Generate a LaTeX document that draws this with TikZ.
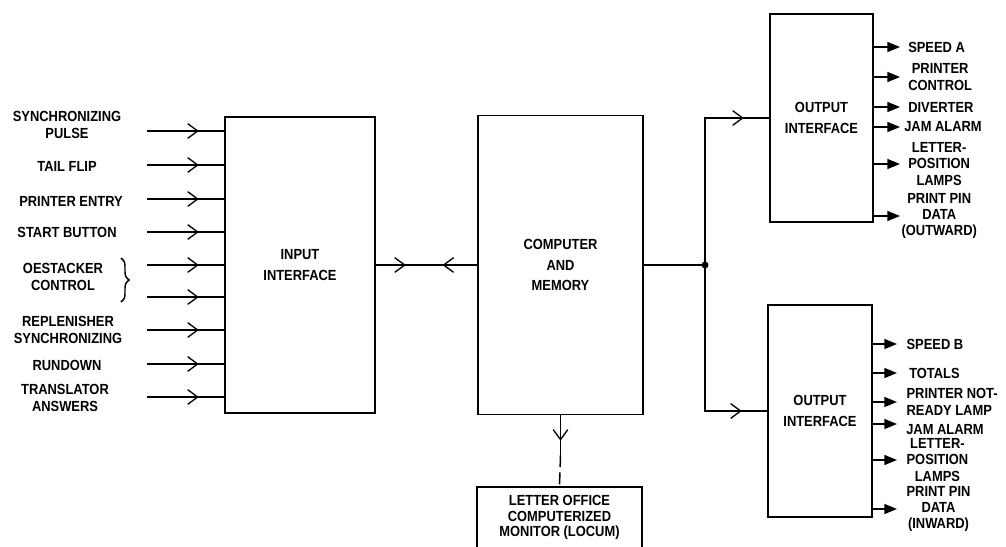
\documentclass[tikz,border=0pt]{standalone}
\usepackage{fontspec}
\setmainfont{Liberation Sans}[FakeStretch=0.88]
\usepackage{tikz}
\usetikzlibrary{arrows.meta, positioning, decorations.markings, decorations.pathreplacing}

\tikzset{
  openhead/.tip={Straight Barb[length=7.5pt,width=11pt,line width=1pt]},
  block/.style={draw, line width=1.3pt, inner sep=0pt, align=center,
    font=\bfseries\fontsize{11pt}{15.5pt}\selectfont},
  lbl/.style={inner sep=0pt, align=center, font=\bfseries\fontsize{11pt}{12.2pt}\selectfont},
  wire/.style={line width=1.1pt},
  midtip/.style={postaction={decorate, decoration={markings,
    mark=at position #1 with {\arrow{openhead}}}}},
  midback/.style={postaction={decorate, decoration={markings,
    mark=at position #1 with {\arrowreversed{openhead}}}}},
  outarrow/.style={wire, -{Triangle[length=9.5pt,width=7.5pt]}},
}

\begin{document}
\begin{tikzpicture}[x=0.75pt, y=-0.75pt]
    \useasboundingbox (0,0) rectangle (1006,546);
    \clip (0,0) rectangle (1006,546);

    % Main blocks
    \node[block, minimum width=112.5pt, minimum height=222pt] (input) at (300,265) {INPUT\\INTERFACE};
    \node[block, minimum width=123.75pt, minimum height=224.25pt] (comp) at (560.5,265) {COMPUTER\\AND\\MEMORY};
    \node[block, minimum width=77.25pt, minimum height=156pt] (outa) at (821.5,118) {OUTPUT\\INTERFACE};
    \node[block, minimum width=78pt, minimum height=159pt] (outb) at (820,411) {OUTPUT\\INTERFACE};
    \node[block, minimum width=123.75pt, minimum height=45.75pt, font=\bfseries\fontsize{11pt}{11.8pt}\selectfont] (locum) at (559.5,517.5) {LETTER OFFICE\\COMPUTERIZED\\MONITOR (LOCUM)};

    % Input signals
    \node[lbl] (sync) at (67,125) {SYNCHRONIZING\\PULSE};
    \node[lbl] (tail) at (67,166) {TAIL FLIP};
    \node[lbl] (entry) at (71,201) {PRINTER ENTRY};
    \node[lbl] (start) at (67,232) {START BUTTON};
    \node[lbl] (destack) at (63,277) {OESTACKER\\CONTROL};
    \node[lbl] (replen) at (68,330) {REPLENISHER\\SYNCHRONIZING};
    \node[lbl] (rundown) at (67,365) {RUNDOWN};
    \node[lbl] (transl) at (65,398) {TRANSLATOR\\ANSWERS};
    \draw[wire, decorate, decoration={brace, amplitude=6pt}] (121,258) -- (121,302);

    \coordinate (s1) at (147,131);
    \coordinate (s2) at (147,165);
    \coordinate (s3) at (147,199);
    \coordinate (s4) at (147,232);
    \coordinate (s5) at (147,265);
    \coordinate (s6) at (147,297);
    \coordinate (s7) at (147,330);
    \coordinate (s8) at (147,364);
    \coordinate (s9) at (147,397);
    \draw[wire, midtip=-19pt] (s1) -- (s1 -| input.west);
    \draw[wire, midtip=-19pt] (s2) -- (s2 -| input.west);
    \draw[wire, midtip=-19pt] (s3) -- (s3 -| input.west);
    \draw[wire, midtip=-19pt] (s4) -- (s4 -| input.west);
    \draw[wire, midtip=-19pt] (s5) -- (s5 -| input.west);
    \draw[wire, midtip=-19pt] (s6) -- (s6 -| input.west);
    \draw[wire, midtip=-19pt] (s7) -- (s7 -| input.west);
    \draw[wire, midtip=-19pt] (s8) -- (s8 -| input.west);
    \draw[wire, midtip=-19pt] (s9) -- (s9 -| input.west);

    % Links between blocks
    \draw[wire, midtip=22.5pt, midback=-26pt] (input.east) -- (comp.west);
    \coordinate (jn) at (705,265);
    \draw[wire] (comp.east) -- (jn);
    \draw[wire, midtip=-19pt] (jn) |- (outa.west);
    \draw[wire, midtip=-19pt] (jn) |- (outb.west);
    \fill (jn) circle[radius=2.6pt];
    \coordinate (dm) at (560.5,455);
    \draw[wire, midtip=19pt] (comp.south) -- (dm);
    \draw[wire, dash pattern=on 9pt off 4pt] (dm) -- (locum.north);

    % Outputs, upper interface
    \coordinate (a1) at (900,47);
    \coordinate (a2) at (900,77);
    \coordinate (a3) at (900,107);
    \coordinate (a4) at (900,127);
    \coordinate (a5) at (900,164);
    \coordinate (a6) at (900,216);
    \draw[outarrow] (a1 -| outa.east) -- (a1);
    \draw[outarrow] (a2 -| outa.east) -- (a2);
    \draw[outarrow] (a3 -| outa.east) -- (a3);
    \draw[outarrow] (a4 -| outa.east) -- (a4);
    \draw[outarrow] (a5 -| outa.east) -- (a5);
    \draw[outarrow] (a6 -| outa.east) -- (a6);
    \node[lbl, right=6pt of a1] (speeda) {SPEED A};
    \node[lbl, right=6pt of a2] (prctl) {PRINTER\\CONTROL};
    \node[lbl, right=6pt of a3] (divert) {DIVERTER};
    \node[lbl, right=3pt of a4] (jama) {JAM ALARM};
    \node[lbl, right=6pt of a5] (lampsa) {LETTER-\\POSITION\\LAMPS};
    \node[lbl, right=1pt of a6] (pinout) {PRINT PIN\\DATA\\(OUTWARD)};

    % Outputs, lower interface
    \coordinate (b1) at (897,344);
    \coordinate (b2) at (897,373);
    \coordinate (b3) at (897,402);
    \coordinate (b4) at (897,424);
    \coordinate (b5) at (897,460);
    \coordinate (b6) at (897,509);
    \draw[outarrow] (b1 -| outb.east) -- (b1);
    \draw[outarrow] (b2 -| outb.east) -- (b2);
    \draw[outarrow] (b3 -| outb.east) -- (b3);
    \draw[outarrow] (b4 -| outb.east) -- (b4);
    \draw[outarrow] (b5 -| outb.east) -- (b5);
    \draw[outarrow] (b6 -| outb.east) -- (b6);
    \node[lbl, right=7pt of b1] (speedb) {SPEED B};
    \node[lbl, right=9pt of b2] (totals) {TOTALS};
    \node[lbl, right=7pt of b3, align=left] (notready) {PRINTER NOT-\\READY LAMP};
    \node[lbl, anchor=west] (jamb) at (906,430) {JAM ALARM};
    \node[lbl, right=7pt of b5] (lampsb) {LETTER-\\POSITION\\LAMPS};
    \node[lbl, right=7pt of b6] (pinin) {PRINT PIN\\DATA\\(INWARD)};
\end{tikzpicture}
\end{document}
